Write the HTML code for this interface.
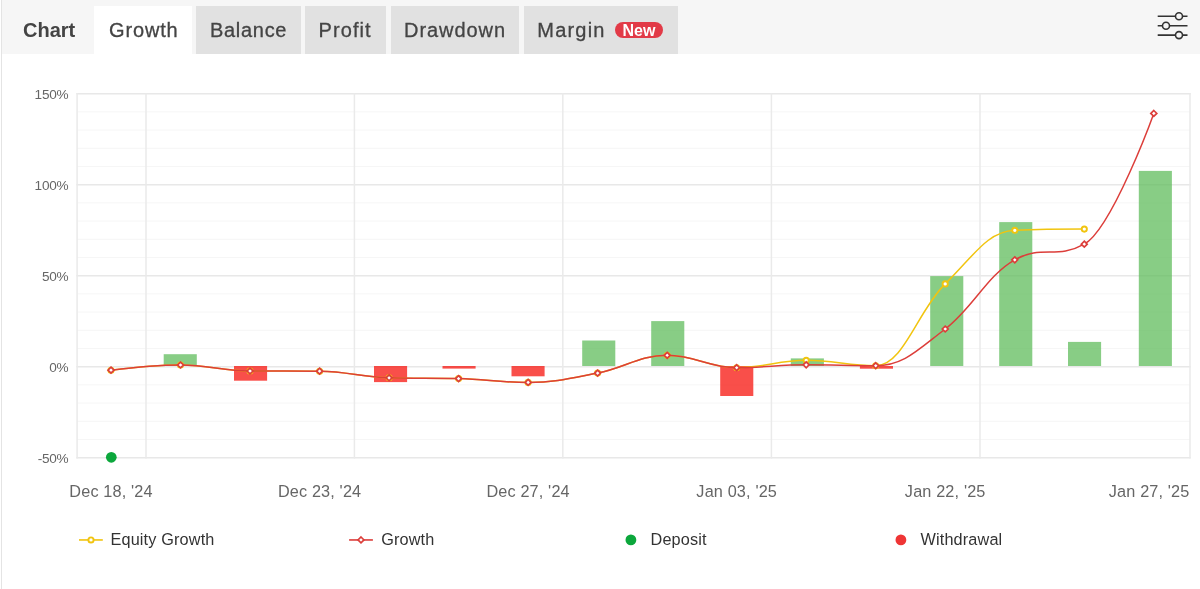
<!DOCTYPE html>
<html lang="en">
<head>
<meta charset="utf-8">
<title>Chart</title>
<style>
html,body{margin:0;padding:0;background:#fff;}
body{width:1200px;height:589px;position:relative;overflow:hidden;font-family:"Liberation Sans",sans-serif;}
#wrap{position:absolute;left:1px;top:0;width:1199px;height:589px;border-left:1px solid #e4e4e4;box-sizing:border-box;}
#head{position:absolute;left:2px;top:0;width:1198px;height:54px;background:#f6f6f6;}
.tab{position:absolute;top:6px;height:48px;line-height:49px;font-size:20px;color:#444;background:#e1e1e1;box-sizing:border-box;padding-left:15px;white-space:nowrap;-webkit-text-stroke:0.3px #444;}
.tab.active{background:#fff;}
#title{position:absolute;left:23px;top:6px;height:48px;line-height:49px;font-size:20px;font-weight:bold;color:#444;}
.badge{position:absolute;top:16px;height:16px;line-height:18px;border-radius:8px;background:#e23a47;color:#fff;font-size:16px;font-weight:bold;text-align:center;letter-spacing:0;-webkit-text-stroke:0;}
svg text{font-family:"Liberation Sans",sans-serif;letter-spacing:0.15px;}
</style>
</head>
<body>
<div id="wrap"></div>
<div id="head"></div>
<div id="title">Chart</div>
<div class="tab active" style="left:94px;width:98px;letter-spacing:0.85px;">Growth</div>
<div class="tab" style="left:196px;width:105px;letter-spacing:0.7px;padding-left:14px;">Balance</div>
<div class="tab" style="left:305px;width:81px;letter-spacing:1.1px;padding-left:13.5px;">Profit</div>
<div class="tab" style="left:391px;width:128px;letter-spacing:0.95px;padding-left:13px;">Drawdown</div>
<div class="tab" style="left:524px;width:154px;letter-spacing:1.2px;padding-left:13.3px;">Margin<span class="badge" style="left:91px;width:48px;">New</span></div>
<svg style="position:absolute;left:1150px;top:8px" width="46" height="36" viewBox="1150 8 46 36">
 <g stroke="#333" stroke-width="1.6" fill="none">
  <path d="M1157.7 16.3H1175.3M1182.7 16.3H1187.5"/>
  <circle cx="1179" cy="16.3" r="3.5"/>
  <path d="M1157.7 25.7H1162.3M1169.7 25.7H1187.5"/>
  <circle cx="1166" cy="25.7" r="3.5"/>
  <path d="M1157.7 35.1H1175.3M1182.7 35.1H1187.5"/>
  <circle cx="1179" cy="35.1" r="3.5"/>
 </g>
</svg>
<svg style="position:absolute;left:0;top:54px" width="1200" height="535" viewBox="0 54 1200 535">
<path d="M77.1 439.50H1190.0" stroke="#f6f6f6" stroke-width="1"/>
<path d="M77.1 421.30H1190.0" stroke="#f6f6f6" stroke-width="1"/>
<path d="M77.1 403.10H1190.0" stroke="#f6f6f6" stroke-width="1"/>
<path d="M77.1 384.90H1190.0" stroke="#f6f6f6" stroke-width="1"/>
<path d="M77.1 348.50H1190.0" stroke="#f6f6f6" stroke-width="1"/>
<path d="M77.1 330.30H1190.0" stroke="#f6f6f6" stroke-width="1"/>
<path d="M77.1 312.10H1190.0" stroke="#f6f6f6" stroke-width="1"/>
<path d="M77.1 293.90H1190.0" stroke="#f6f6f6" stroke-width="1"/>
<path d="M77.1 257.50H1190.0" stroke="#f6f6f6" stroke-width="1"/>
<path d="M77.1 239.30H1190.0" stroke="#f6f6f6" stroke-width="1"/>
<path d="M77.1 221.10H1190.0" stroke="#f6f6f6" stroke-width="1"/>
<path d="M77.1 202.90H1190.0" stroke="#f6f6f6" stroke-width="1"/>
<path d="M77.1 166.50H1190.0" stroke="#f6f6f6" stroke-width="1"/>
<path d="M77.1 148.30H1190.0" stroke="#f6f6f6" stroke-width="1"/>
<path d="M77.1 130.10H1190.0" stroke="#f6f6f6" stroke-width="1"/>
<path d="M77.1 111.90H1190.0" stroke="#f6f6f6" stroke-width="1"/>
<path d="M76.4 457.70H1190.7" stroke="#e8e8e8" stroke-width="1.5"/>
<path d="M76.4 366.70H1190.7" stroke="#e8e8e8" stroke-width="1.5"/>
<path d="M76.4 275.70H1190.7" stroke="#e8e8e8" stroke-width="1.5"/>
<path d="M76.4 184.70H1190.7" stroke="#e8e8e8" stroke-width="1.5"/>
<path d="M76.4 93.70H1190.7" stroke="#e8e8e8" stroke-width="1.5"/>
<path d="M77.1 93.0V458.4" stroke="#eaeaea" stroke-width="1.5"/>
<path d="M146.0 93.0V458.4" stroke="#eaeaea" stroke-width="1.5"/>
<path d="M354.4 93.0V458.4" stroke="#eaeaea" stroke-width="1.5"/>
<path d="M562.8 93.0V458.4" stroke="#eaeaea" stroke-width="1.5"/>
<path d="M771.4 93.0V458.4" stroke="#eaeaea" stroke-width="1.5"/>
<path d="M980.0 93.0V458.4" stroke="#eaeaea" stroke-width="1.5"/>
<path d="M1190.0 93.0V458.4" stroke="#eaeaea" stroke-width="1.5"/>
<rect x="163.7" y="354.2" width="33.1" height="11.8" fill="rgba(92,186,88,0.73)"/>
<rect x="234.0" y="366.0" width="33.1" height="14.7" fill="rgba(247,20,14,0.75)"/>
<rect x="374.0" y="366.0" width="33.1" height="16.1" fill="rgba(247,20,14,0.75)"/>
<rect x="442.5" y="366.0" width="33.1" height="2.6" fill="rgba(247,20,14,0.75)"/>
<rect x="511.5" y="366.0" width="33.1" height="10.3" fill="rgba(247,20,14,0.75)"/>
<rect x="582.2" y="340.5" width="33.1" height="25.5" fill="rgba(92,186,88,0.73)"/>
<rect x="651.2" y="321.1" width="33.1" height="44.9" fill="rgba(92,186,88,0.73)"/>
<rect x="720.2" y="366.0" width="33.1" height="30.0" fill="rgba(247,20,14,0.75)"/>
<rect x="790.8" y="358.4" width="33.1" height="7.6" fill="rgba(92,186,88,0.73)"/>
<rect x="859.9" y="366.0" width="33.1" height="2.7" fill="rgba(247,20,14,0.75)"/>
<rect x="930.2" y="276.1" width="33.1" height="89.9" fill="rgba(92,186,88,0.73)"/>
<rect x="999.2" y="222.1" width="33.1" height="143.9" fill="rgba(92,186,88,0.73)"/>
<rect x="1068.0" y="341.9" width="33.1" height="24.1" fill="rgba(92,186,88,0.73)"/>
<rect x="1138.8" y="170.9" width="33.1" height="195.1" fill="rgba(92,186,88,0.73)"/>
<path d="M111.00 370.20 C111.00 370.20 152.71 365.00 180.52 365.00 C208.33 365.00 222.23 370.80 250.04 371.00 C277.85 371.20 291.75 371.00 319.56 371.20 C347.37 371.40 361.27 377.00 389.08 377.80 C416.89 378.60 430.79 377.80 458.60 378.60 C486.41 379.40 500.31 382.40 528.12 382.40 C555.93 382.40 569.83 378.52 597.64 373.10 C625.45 367.68 639.35 355.30 667.16 355.30 C694.97 355.30 708.87 367.70 736.68 367.70 C764.49 367.70 778.39 360.30 806.20 360.30 C834.01 360.30 847.91 365.70 875.72 365.70 C903.53 365.70 917.43 310.98 945.24 283.90 C973.05 256.82 986.95 231.50 1014.76 230.30 C1042.57 229.10 1084.28 229.10 1084.28 229.10" fill="none" stroke="#f1c40f" stroke-width="1.5" stroke-linejoin="round" stroke-linecap="round"/>
<circle cx="111.0" cy="370.2" r="2.6" fill="#fff" stroke="#f1c40f" stroke-width="1.9"/>
<circle cx="180.5" cy="365.0" r="2.6" fill="#fff" stroke="#f1c40f" stroke-width="1.9"/>
<circle cx="250.0" cy="371.0" r="2.6" fill="#fff" stroke="#f1c40f" stroke-width="1.9"/>
<circle cx="319.6" cy="371.2" r="2.6" fill="#fff" stroke="#f1c40f" stroke-width="1.9"/>
<circle cx="389.1" cy="377.8" r="2.6" fill="#fff" stroke="#f1c40f" stroke-width="1.9"/>
<circle cx="458.6" cy="378.6" r="2.6" fill="#fff" stroke="#f1c40f" stroke-width="1.9"/>
<circle cx="528.1" cy="382.4" r="2.6" fill="#fff" stroke="#f1c40f" stroke-width="1.9"/>
<circle cx="597.6" cy="373.1" r="2.6" fill="#fff" stroke="#f1c40f" stroke-width="1.9"/>
<circle cx="667.2" cy="355.3" r="2.6" fill="#fff" stroke="#f1c40f" stroke-width="1.9"/>
<circle cx="736.7" cy="367.7" r="2.6" fill="#fff" stroke="#f1c40f" stroke-width="1.9"/>
<circle cx="806.2" cy="360.3" r="2.6" fill="#fff" stroke="#f1c40f" stroke-width="1.9"/>
<circle cx="875.7" cy="365.7" r="2.6" fill="#fff" stroke="#f1c40f" stroke-width="1.9"/>
<circle cx="945.2" cy="283.9" r="2.6" fill="#fff" stroke="#f1c40f" stroke-width="1.9"/>
<circle cx="1014.8" cy="230.3" r="2.6" fill="#fff" stroke="#f1c40f" stroke-width="1.9"/>
<circle cx="1084.3" cy="229.1" r="2.6" fill="#fff" stroke="#f1c40f" stroke-width="1.9"/>
<path d="M111.00 370.20 C111.00 370.20 152.71 365.00 180.52 365.00 C208.33 365.00 222.23 370.80 250.04 371.00 C277.85 371.20 291.75 371.00 319.56 371.20 C347.37 371.40 361.27 377.00 389.08 377.80 C416.89 378.60 430.79 377.80 458.60 378.60 C486.41 379.40 500.31 382.40 528.12 382.40 C555.93 382.40 569.83 378.52 597.64 373.10 C625.45 367.68 639.35 355.30 667.16 355.30 C694.97 355.30 708.87 367.70 736.68 367.70 C764.49 367.70 778.39 364.80 806.20 364.80 C834.01 364.80 847.91 365.70 875.72 365.70 C903.53 365.70 917.43 350.18 945.24 329.00 C973.05 307.82 986.95 275.40 1014.76 259.80 C1042.57 244.20 1056.47 259.80 1084.28 244.20 C1112.09 228.60 1153.80 113.40 1153.80 113.40" fill="none" stroke="#dc3e3a" stroke-width="1.5" stroke-linejoin="round" stroke-linecap="round"/>
<path d="M111.0 367.2L114.0 370.2L111.0 373.1L108.0 370.2Z" fill="#fff" stroke="#dc3e3a" stroke-width="1.7"/>
<path d="M180.5 362.1L183.5 365.0L180.5 367.9L177.6 365.0Z" fill="#fff" stroke="#dc3e3a" stroke-width="1.7"/>
<path d="M250.0 368.1L253.0 371.0L250.0 373.9L247.1 371.0Z" fill="#fff" stroke="#dc3e3a" stroke-width="1.7"/>
<path d="M319.6 368.2L322.5 371.2L319.6 374.1L316.6 371.2Z" fill="#fff" stroke="#dc3e3a" stroke-width="1.7"/>
<path d="M389.1 374.9L392.0 377.8L389.1 380.8L386.1 377.8Z" fill="#fff" stroke="#dc3e3a" stroke-width="1.7"/>
<path d="M458.6 375.7L461.5 378.6L458.6 381.6L455.6 378.6Z" fill="#fff" stroke="#dc3e3a" stroke-width="1.7"/>
<path d="M528.1 379.4L531.1 382.4L528.1 385.3L525.2 382.4Z" fill="#fff" stroke="#dc3e3a" stroke-width="1.7"/>
<path d="M597.6 370.2L600.6 373.1L597.6 376.1L594.7 373.1Z" fill="#fff" stroke="#dc3e3a" stroke-width="1.7"/>
<path d="M667.2 352.4L670.1 355.3L667.2 358.2L664.2 355.3Z" fill="#fff" stroke="#dc3e3a" stroke-width="1.7"/>
<path d="M736.7 364.8L739.6 367.7L736.7 370.6L733.7 367.7Z" fill="#fff" stroke="#dc3e3a" stroke-width="1.7"/>
<path d="M806.2 361.9L809.1 364.8L806.2 367.8L803.2 364.8Z" fill="#fff" stroke="#dc3e3a" stroke-width="1.7"/>
<path d="M875.7 362.8L878.7 365.7L875.7 368.6L872.8 365.7Z" fill="#fff" stroke="#dc3e3a" stroke-width="1.7"/>
<path d="M945.2 326.1L948.2 329.0L945.2 331.9L942.3 329.0Z" fill="#fff" stroke="#dc3e3a" stroke-width="1.7"/>
<path d="M1014.8 256.9L1017.7 259.8L1014.8 262.8L1011.8 259.8Z" fill="#fff" stroke="#dc3e3a" stroke-width="1.7"/>
<path d="M1084.3 241.2L1087.2 244.2L1084.3 247.1L1081.3 244.2Z" fill="#fff" stroke="#dc3e3a" stroke-width="1.7"/>
<path d="M1153.8 110.5L1156.8 113.4L1153.8 116.4L1150.8 113.4Z" fill="#fff" stroke="#dc3e3a" stroke-width="1.7"/>
<circle cx="111.3" cy="457.3" r="5.35" fill="#0ca73c"/>
<text x="68.4" y="462.9" text-anchor="end" font-size="13.6" style="letter-spacing:-0.25px" fill="#666">-50%</text>
<text x="68.4" y="371.9" text-anchor="end" font-size="13.6" style="letter-spacing:-0.25px" fill="#666">0%</text>
<text x="68.4" y="280.9" text-anchor="end" font-size="13.6" style="letter-spacing:-0.25px" fill="#666">50%</text>
<text x="68.4" y="189.9" text-anchor="end" font-size="13.6" style="letter-spacing:-0.25px" fill="#666">100%</text>
<text x="68.4" y="98.9" text-anchor="end" font-size="13.6" style="letter-spacing:-0.25px" fill="#666">150%</text>
<text x="111.0" y="496.5" text-anchor="middle" font-size="16.25" fill="#666">Dec 18, '24</text>
<text x="319.6" y="496.5" text-anchor="middle" font-size="16.25" fill="#666">Dec 23, '24</text>
<text x="528.1" y="496.5" text-anchor="middle" font-size="16.25" fill="#666">Dec 27, '24</text>
<text x="736.7" y="496.5" text-anchor="middle" font-size="16.25" fill="#666">Jan 03, '25</text>
<text x="945.2" y="496.5" text-anchor="middle" font-size="16.25" fill="#666">Jan 22, '25</text>
<text x="1189.5" y="496.5" text-anchor="end" font-size="16.25" fill="#666">Jan 27, '25</text>
<path d="M79 539.95H102.8" stroke="#f1c40f" stroke-width="1.9" opacity="0.85"/><circle cx="91" cy="539.95" r="2.6" fill="#fff" stroke="#f1c40f" stroke-width="1.9"/>
<text x="110.5" y="545" font-size="16.25" fill="#333">Equity Growth</text>
<path d="M349.1 539.95H372.9" stroke="#dc3e3a" stroke-width="1.9" opacity="0.85"/><path d="M361 537L363.95 539.95L361 542.9L358.05 539.95Z" fill="#fff" stroke="#dc3e3a" stroke-width="1.7"/>
<text x="381.2" y="545" font-size="16.25" fill="#333">Growth</text>
<circle cx="630.9" cy="539.9" r="5.4" fill="#0ca73c"/>
<text x="650.5" y="545" font-size="16.25" fill="#333">Deposit</text>
<circle cx="900.9" cy="539.9" r="5.4" fill="#ef3535"/>
<text x="920.5" y="545" font-size="16.25" fill="#333">Withdrawal</text>
</svg>
</body>
</html>
